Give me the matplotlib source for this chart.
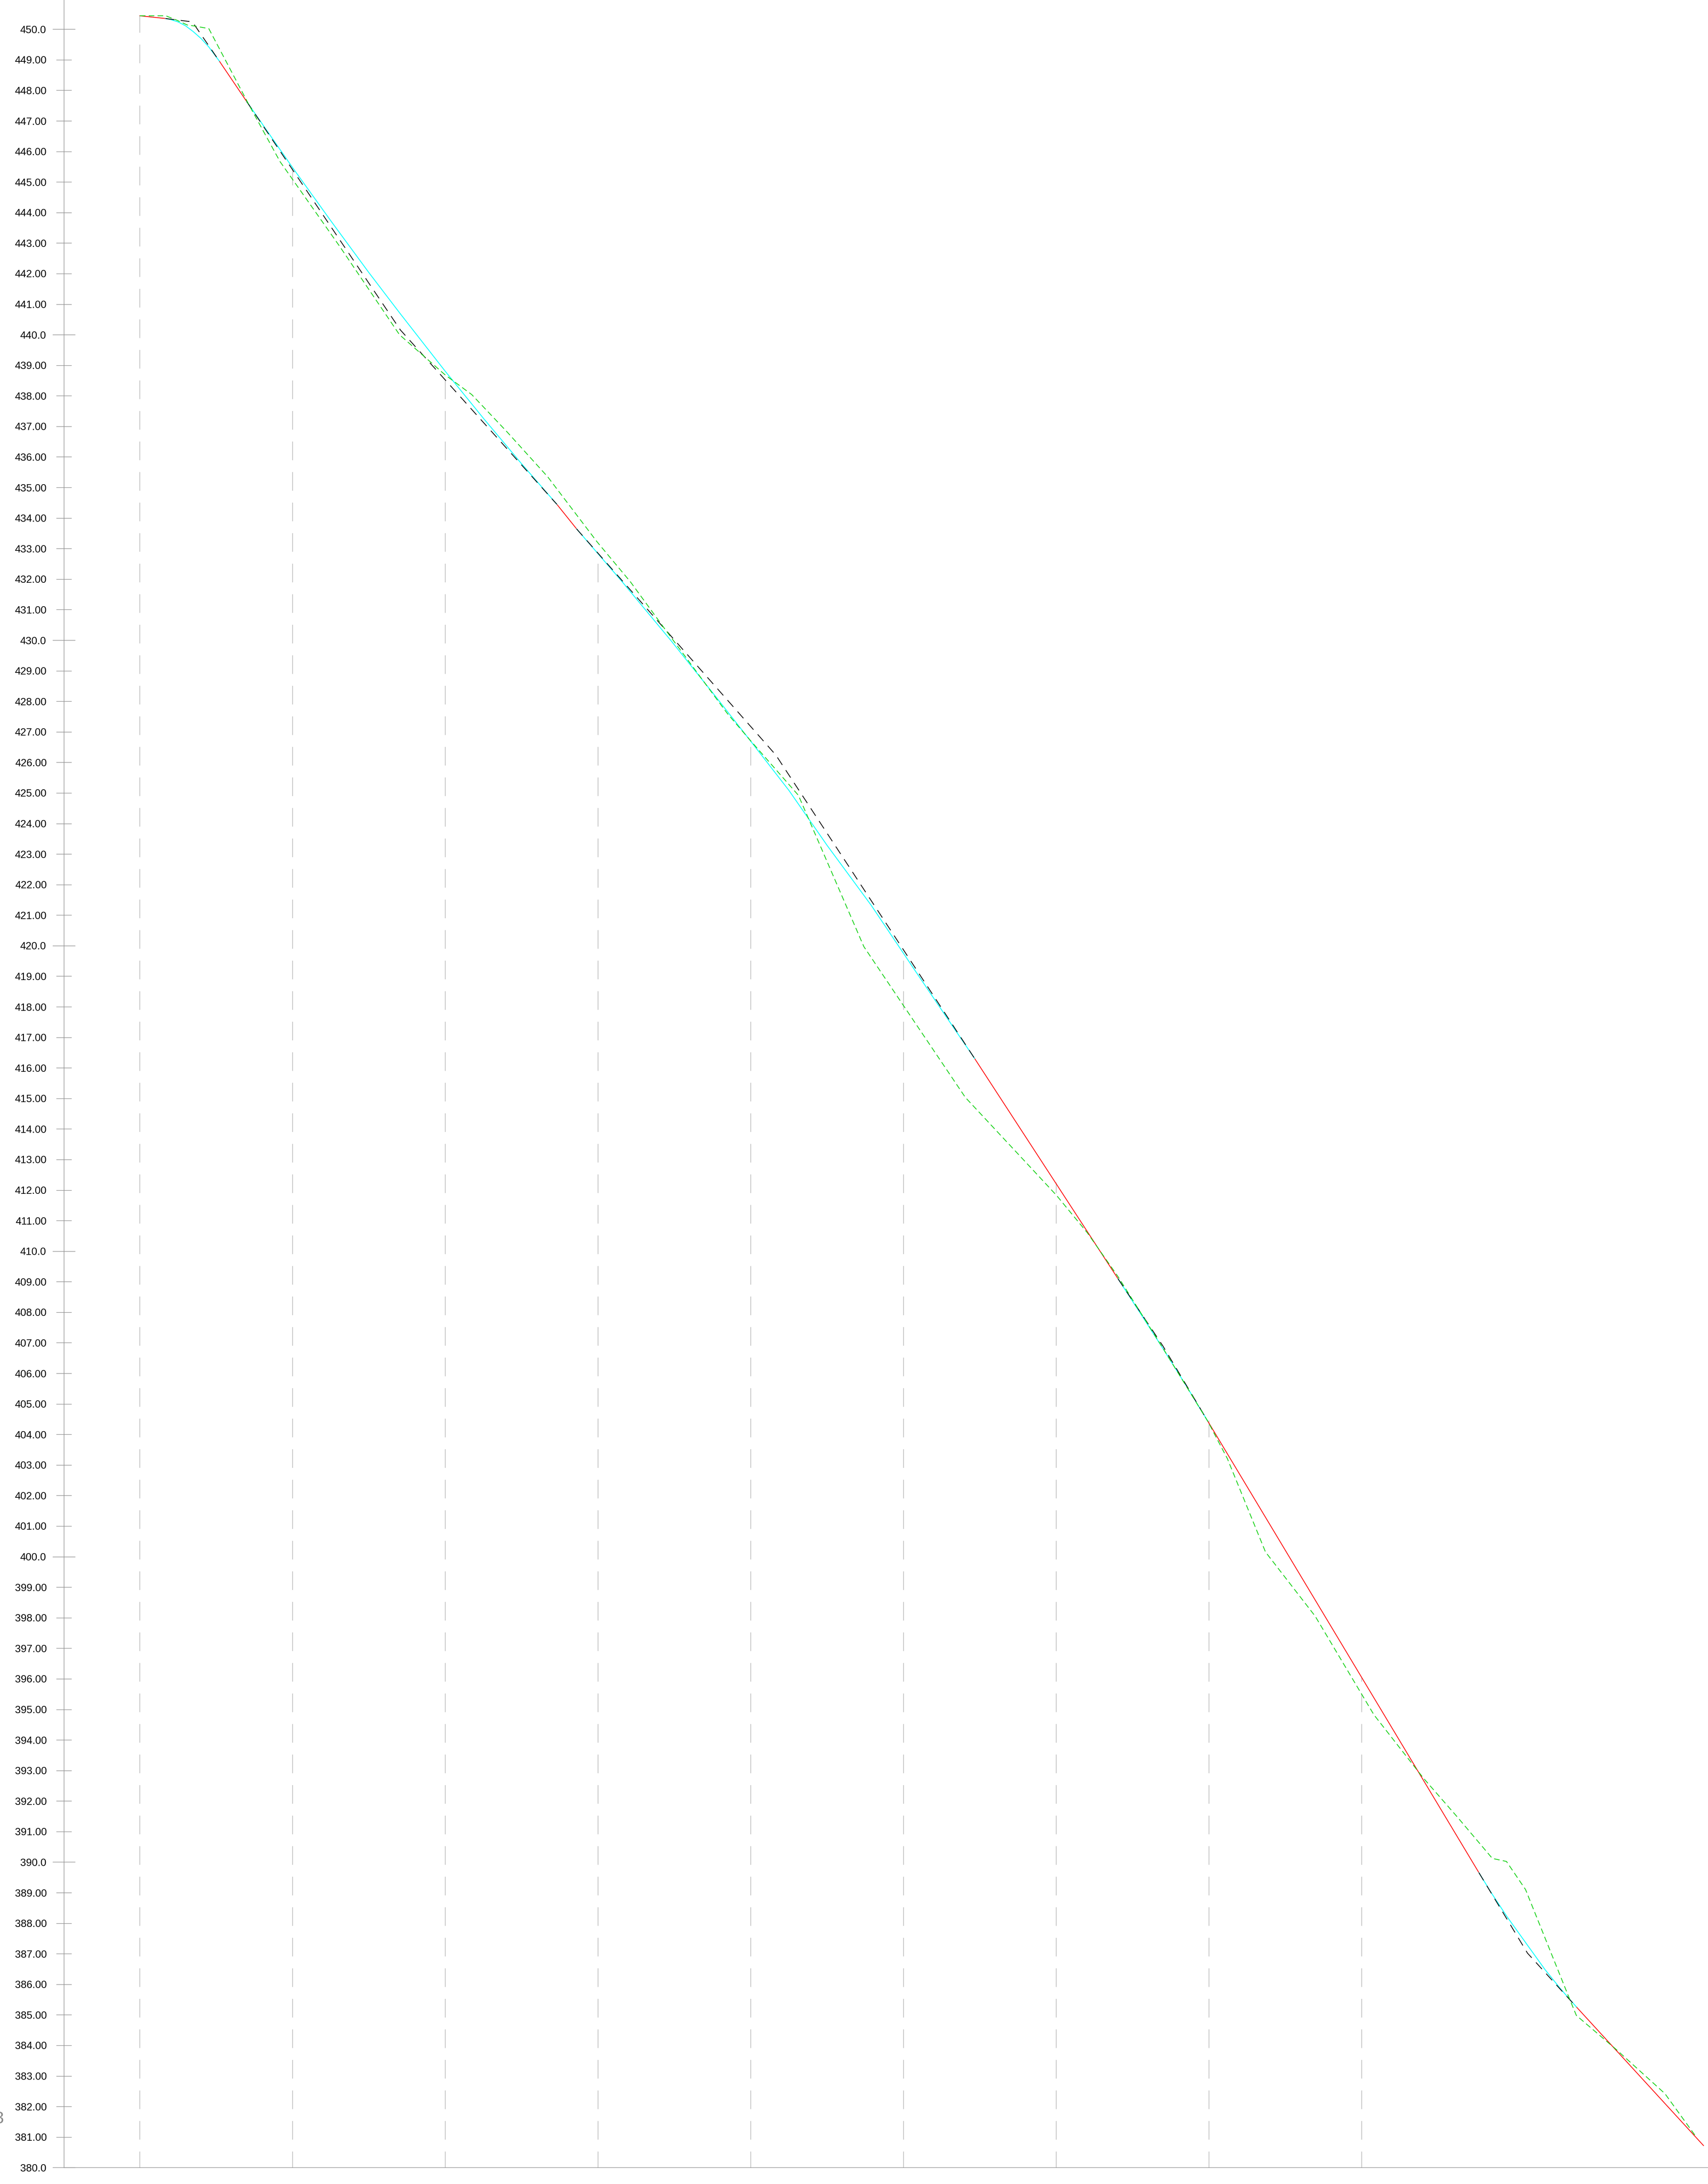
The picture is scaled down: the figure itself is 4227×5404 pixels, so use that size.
import matplotlib.pyplot as plt
from matplotlib.ticker import MultipleLocator, FormatStrFormatter

plt.rcParams['font.family'] = ['Liberation Sans', 'DejaVu Sans']
plt.rcParams['lines.scale_dashes'] = False

# estacas (m) com linha de chamada e cota do greide nelas
stations = [0, 20, 40, 60, 80, 100, 120, 140, 160]
station_z = [450.44, 445.45, 438.80, 432.90, 426.69, 419.80, 412.24, 404.45, 396.04]

# trechos retos do greide (pares inicio/fim)
grade_x = [0.0, 3.37, 10.4, 14.0, 54.6, 57.2, 109.3, 128.1, 139.8, 175.35, 188.1, 204.75]
grade_z = [450.44, 450.35, 448.96, 447.63, 434.45, 433.64, 416.31, 409.09, 404.45, 389.65, 385.26, 380.72]

# curvas verticais
curve1_x = [3.37, 4.0, 5.0, 6.0, 7.0, 8.0, 9.0, 10.4]
curve1_z = [450.35, 450.32, 450.24, 450.11, 449.92, 449.70, 449.43, 448.96]
curve2_x = [14.0, 20.0, 25.0, 30.0, 34.0, 40.0, 45.0, 50.0, 54.6]
curve2_z = [447.63, 445.47, 443.73, 442.03, 440.72, 438.80, 437.26, 435.77, 434.45]
curve3_x = [57.2, 63.0, 69.6, 75.0, 80.0, 85.0, 90.0, 95.8, 101.2, 106.6, 109.3]
curve3_z = [433.64, 431.96, 429.97, 428.28, 426.69, 425.08, 423.28, 421.31, 419.30, 417.30, 416.31]
curve4_x = [128.1, 131.0, 134.0, 137.0, 139.8]
curve4_z = [409.09, 407.97, 406.80, 405.60, 404.45]
curve5_x = [175.35, 177.0, 179.0, 181.7, 184.0, 186.0, 188.1]
curve5_z = [389.65, 388.98, 388.22, 387.28, 386.48, 385.86, 385.26]

# tangentes ate o PIV de cada curva
piv_x = [[3.37, 6.88, 10.4], [14.0, 34.1, 54.6], [57.2, 83.28, 109.3],
         [128.1, 133.95, 139.8], [175.35, 181.7, 188.1]]
piv_z = [[450.35, 450.24, 448.96], [447.63, 440.16, 434.45], [433.64, 426.24, 416.31],
         [409.09, 406.90, 404.45], [389.65, 387.02, 385.26]]

# terreno natural
ground_x = [0.0, 3.39, 4.8, 6.2, 7.27, 9.03, 14.3, 18.35, 26.2, 34.0, 39.95, 43.46,
            48.04, 53.4, 59.9, 64.24, 68.56, 76.93, 80.04, 86.24, 94.8, 99.88, 108.1,
            116.6, 120.05, 124.07, 128.1, 133.9, 139.84, 142.4, 147.4, 153.9, 161.6,
            168.07, 172.5, 177.1, 178.95, 181.45, 187.15, 188.1, 193.3, 199.7, 203.8]
ground_z = [450.44, 450.44, 450.30, 450.14, 450.10, 450.02, 447.52, 445.67, 442.88,
            440.00, 438.69, 438.04, 436.83, 435.35, 433.21, 431.91, 430.43, 427.60,
            426.69, 424.92, 419.97, 418.08, 415.03, 412.75, 411.82, 410.60, 409.16,
            406.85, 404.43, 403.21, 400.15, 398.05, 394.82, 392.75, 391.48, 390.12,
            390.02, 389.10, 385.56, 384.98, 383.87, 382.42, 381.00]

W, H = 4227, 5404
fig = plt.figure(figsize=(W / 100, H / 100), dpi=100)
ax = fig.add_axes([158 / W, (H - 5363.3) / H, 1 - 158 / W, 5363.3 / H])

axis_gray = '#8c8c8c'
for s, z in zip(stations, station_z):
    ax.plot([s, s], [380, z], color='#c8c8c8', lw=1.5, ls=(4.9, (33.2, 21.2)))

for i in range(0, len(grade_x), 2):
    ax.plot(grade_x[i:i + 2], grade_z[i:i + 2], color='#ff0000', lw=1.4)

for cx, cz in [(curve1_x, curve1_z), (curve2_x, curve2_z), (curve3_x, curve3_z),
               (curve4_x, curve4_z), (curve5_x, curve5_z)]:
    ax.plot(cx, cz, color='#00ffff', lw=1.5)

for tx, tz in zip(piv_x, piv_z):
    ax.plot(tx, tz, color='black', lw=1.4, ls=(0, (15.8, 11.3)))

ax.plot(ground_x, ground_z, color='#11d011', lw=1.4, ls=(0, (10, 5.8)))

ax.set_xlim(-9.95, 205.34)
ax.set_ylim(380, 450 + 72.3 / 75.586)
ax.set_xticks([])

ax.yaxis.set_major_locator(MultipleLocator(10))
ax.yaxis.set_minor_locator(MultipleLocator(1))
ax.yaxis.set_major_formatter(FormatStrFormatter('%.1f'))
ax.yaxis.set_minor_formatter(FormatStrFormatter('%.2f'))
ax.tick_params(axis='y', which='major', direction='inout', length=41, width=0.95,
               color=axis_gray, pad=11, labelsize=18.5)
ax.tick_params(axis='y', which='minor', direction='inout', length=28, width=0.95,
               color=axis_gray, pad=16.5, labelsize=18.5)

for side in ['top', 'right']:
    ax.spines[side].set_visible(False)
for side in ['left', 'bottom']:
    ax.spines[side].set_color(axis_gray)
    ax.spines[side].set_linewidth(0.95)

fig.text(9 / W, 1 - 5243 / H, '3', ha='right', va='center', fontsize=31, color='#8a8a8a')

fig.savefig('out.png', dpi=100)
